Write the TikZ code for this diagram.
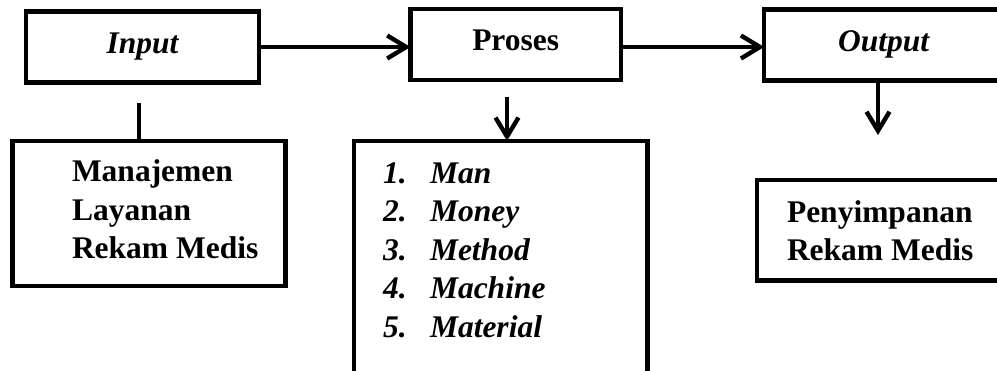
\documentclass[tikz,border=0pt]{standalone}
\usepackage{fontspec}
\setmainfont{Liberation Serif}
\usetikzlibrary{arrows.meta}

\begin{document}
\begin{tikzpicture}[x=1pt,y=-1pt,
  frame/.style={draw=black, line width=4.4pt, inner sep=0pt, outer sep=0pt},
  headbox/.style={frame, minimum height=71pt,
    font=\fontsize{31.5}{38.6}\selectfont, text height=21pt, text depth=9pt},
  txt/.style={anchor=base west, inner sep=0pt, outer sep=0pt,
    font=\fontsize{31.5}{38.6}\selectfont\bfseries},
  stem/.style={line width=4.4pt},
  link/.style={stem, -{Straight Barb[length=19pt,width=23pt]}}]

\useasboundingbox (0,0) rectangle (997,370);
\clip (0,0) rectangle (997,370);

% top row
\node[headbox, minimum width=233pt]   (in)  at (142.4,47)   {\bfseries\itshape Input};
\node[headbox, minimum width=210.5pt] (pro) at (515.7,44.6) {\bfseries Proses};
\node[headbox, minimum width=239pt]   (out) at (883.7,45)   {\bfseries\itshape Output};

% lower boxes
\node[frame, minimum width=273pt,   minimum height=145pt]   (man)  at (149,213.3) {};
\node[frame, minimum width=293.5pt, minimum height=260pt]   (list) at (500.8,270.8) {};
\node[frame, minimum width=247.5pt, minimum height=100.5pt] (pen)  at (881,230.3) {};

% texts of the lower boxes
\node[txt] (mantxt) at (72,181.7)
  {\begin{tabular}[t]{@{}l@{}}Manajemen\\Layanan\\Rekam Medis\end{tabular}};
\node[txt] (listtxt) at (383,183)
  {\itshape\begin{tabular}[t]{@{}l@{}}
    \makebox[47pt][l]{1.}Man\\
    \makebox[47pt][l]{2.}Money\\
    \makebox[47pt][l]{3.}Method\\
    \makebox[47pt][l]{4.}Machine\\
    \makebox[47pt][l]{5.}Material
  \end{tabular}};
\node[txt] (pentxt) at (787,222)
  {\begin{tabular}[t]{@{}l@{}}Penyimpanan\\Rekam Medis\end{tabular}};

% connectors
\draw[link] (in.east) -- (in.east -| pro.west);
\draw[link] (pro.east |- in.east) -- (in.east -| out.west);

\coordinate (inStub) at (139,103.3);
\draw[stem] (inStub) -- (inStub |- man.north);

\coordinate (proStub) at (507,97);
\draw[link] (proStub) -- (proStub |- list.north);

\coordinate (outTip) at (878,135);
\draw[link] (outTip |- out.south) -- (outTip);
\end{tikzpicture}
\end{document}
